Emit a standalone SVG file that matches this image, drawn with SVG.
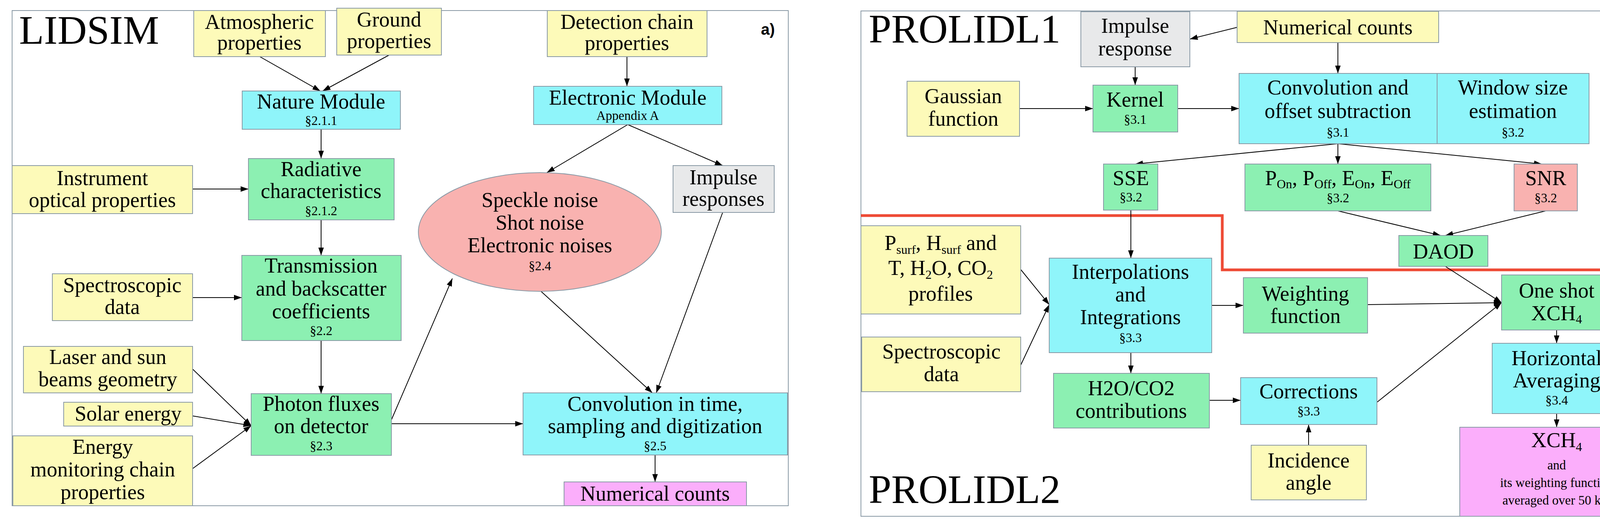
<svg xmlns="http://www.w3.org/2000/svg" width="4253" height="1352" viewBox="0 0 4253 1352">
<defs>
<marker id="ah" viewBox="0 0 20 14" refX="20" refY="7" markerWidth="20" markerHeight="14" markerUnits="userSpaceOnUse" orient="auto"><path d="M0,0 L20,7 L0,14 z" fill="#000"/></marker>
<style>
.n{stroke:#8a9aa6;stroke-width:2}
.y{fill:#fdfab9}.c{fill:#8ff5fa}.g{fill:#8cf0b2}.p{fill:#f9b2b0}.gr{fill:#e8e9ea}.m{fill:#fbaefb}
text{font-family:"Liberation Serif","DejaVu Serif",serif;fill:#000;text-anchor:middle}
.t{font-size:54px}.s{font-size:33px}.big{font-size:104px;text-anchor:start}
.lab{font-family:"Liberation Sans",Arial,sans-serif;font-weight:bold;font-size:40px;text-anchor:start}
.f{fill:none;stroke:#8a9aa6;stroke-width:2}
#conn line{stroke:#000;stroke-width:2;fill:none;marker-end:url(#ah)}
</style>
</defs>
<rect width="4253" height="1352" fill="#fff"/>
<rect class="f" x="31" y="27" width="1987" height="1268"/>
<rect class="f" x="2204" y="28" width="2032" height="1294"/>
<text class="big" x="49" y="112">LIDSIM</text>
<text class="lab" x="1948" y="89">a)</text>
<text class="big" x="2224" y="109">PROLIDL1</text>
<text class="big" x="2224" y="1288">PROLIDL2</text>
<text class="lab" x="4160" y="92">b)</text>
<polyline points="2204,552 3129,552 3129,691 4236,691" fill="none" stroke="#ee4a35" stroke-width="7"/>

<g id="conn">
<line x1="665" y1="145" x2="820" y2="233"/>
<line x1="996" y1="141" x2="826" y2="233"/>
<line x1="1605" y1="145" x2="1605" y2="221"/>
<line x1="822" y1="331" x2="822" y2="406"/>
<line x1="493" y1="484" x2="636" y2="484"/>
<line x1="822" y1="563" x2="822" y2="654"/>
<line x1="493" y1="762" x2="619" y2="762"/>
<line x1="822" y1="872" x2="822" y2="1008"/>
<line x1="493" y1="945" x2="643" y2="1090"/>
<line x1="493" y1="1065" x2="643" y2="1090"/>
<line x1="493" y1="1200" x2="643" y2="1090"/>
<line x1="1002" y1="1085" x2="1339" y2="1085"/>
<line x1="1002" y1="1075" x2="1158" y2="713"/>
<line x1="1607" y1="319" x2="1400" y2="442"/>
<line x1="1607" y1="319" x2="1850" y2="424"/>
<line x1="1385" y1="746" x2="1670" y2="1006"/>
<line x1="1850" y1="544" x2="1680" y2="1006"/>
<line x1="1677" y1="1165" x2="1677" y2="1234"/>

<line x1="3167" y1="70" x2="3046" y2="100"/>
<line x1="3425" y1="109" x2="3425" y2="188"/>
<line x1="2906" y1="171" x2="2906" y2="218"/>
<line x1="2610" y1="278" x2="2798" y2="278"/>
<line x1="3015" y1="278" x2="3172" y2="278"/>
<line x1="3425" y1="368" x2="2906" y2="420"/>
<line x1="3425" y1="368" x2="3425" y2="420"/>
<line x1="3425" y1="368" x2="3947" y2="420"/>
<line x1="3425" y1="540" x2="3688" y2="603"/>
<line x1="3957" y1="540" x2="3700" y2="603"/>
<line x1="2895" y1="538" x2="2895" y2="661"/>
<line x1="2613" y1="690" x2="2686" y2="780"/>
<line x1="2613" y1="935" x2="2686" y2="780"/>
<line x1="3102" y1="782" x2="3183" y2="782"/>
<line x1="3501" y1="780" x2="3844" y2="775"/>
<line x1="3700" y1="682" x2="3844" y2="775"/>
<line x1="3525" y1="1030" x2="3844" y2="775"/>
<line x1="2895" y1="903" x2="2895" y2="956"/>
<line x1="3096" y1="1025" x2="3176" y2="1025"/>
<line x1="3350" y1="1140" x2="3350" y2="1087"/>
<line x1="3985" y1="845" x2="3985" y2="879"/>
<line x1="3985" y1="1059" x2="3985" y2="1094"/>
</g>

<g id="atmos"><rect class="n y" x="496" y="27" width="337" height="118"/><text class="t" x="664" y="74">Atmospheric</text><text class="t" x="664" y="127">properties</text></g>
<g id="ground"><rect class="n y" x="862" y="21" width="268" height="120"/><text class="t" x="996" y="68">Ground</text><text class="t" x="996" y="123">properties</text></g>
<g id="nature"><rect class="n c" x="620" y="233" width="405" height="98"/><text class="t" x="822" y="278">Nature Module</text><text class="s" x="822" y="320">§2.1.1</text></g>
<g id="detection"><rect class="n y" x="1401" y="27" width="409" height="118"/><text class="t" x="1605" y="74">Detection chain</text><text class="t" x="1605" y="128">properties</text></g>
<g id="electronic"><rect class="n c" x="1366" y="221" width="482" height="98"/><text class="t" x="1607" y="268">Electronic Module</text><text class="s" x="1607" y="307">Appendix A</text></g>
<g id="instrument"><rect class="n y" x="31" y="424" width="462" height="123"/><text class="t" x="262" y="474">Instrument</text><text class="t" x="262" y="530">optical properties</text></g>
<g id="radiative"><rect class="n g" x="636" y="406" width="373" height="157"/><text class="t" x="822" y="451">Radiative</text><text class="t" x="822" y="507">characteristics</text><text class="s" x="822" y="551">§2.1.2</text></g>
<g id="impulses"><rect class="n gr" x="1723" y="424" width="259" height="120"/><text class="t" x="1852" y="472">Impulse</text><text class="t" x="1852" y="527">responses</text></g>
<g id="noise"><ellipse class="n p" cx="1382" cy="594" rx="311" ry="152"/><text class="t" x="1382" y="530">Speckle noise</text><text class="t" x="1382" y="588">Shot noise</text><text class="t" x="1382" y="646">Electronic noises</text><text class="s" x="1382" y="692">§2.4</text></g>
<g id="transmission"><rect class="n g" x="619" y="654" width="408" height="218"/><text class="t" x="822" y="698">Transmission</text><text class="t" x="822" y="757">and backscatter</text><text class="t" x="822" y="815">coefficients</text><text class="s" x="822" y="858">§2.2</text></g>
<g id="spectro-a"><rect class="n y" x="134" y="701" width="359" height="120"/><text class="t" x="313" y="748">Spectroscopic</text><text class="t" x="313" y="804">data</text></g>
<g id="laser"><rect class="n y" x="60" y="887" width="433" height="119"/><text class="t" x="276" y="932">Laser and sun</text><text class="t" x="276" y="989">beams geometry</text></g>
<g id="solar"><rect class="n y" x="163" y="1030" width="330" height="61"/><text class="t" x="328" y="1077">Solar energy</text></g>
<g id="energy"><rect class="n y" x="33" y="1116" width="460" height="179"/><text class="t" x="263" y="1162">Energy</text><text class="t" x="263" y="1220">monitoring chain</text><text class="t" x="263" y="1278">properties</text></g>
<g id="photon"><rect class="n g" x="643" y="1008" width="359" height="158"/><text class="t" x="822" y="1052">Photon fluxes</text><text class="t" x="822" y="1109">on detector</text><text class="s" x="822" y="1153">§2.3</text></g>
<g id="convtime"><rect class="n c" x="1339" y="1006" width="677" height="159"/><text class="t" x="1677" y="1052">Convolution in time,</text><text class="t" x="1677" y="1109">sampling and digitization</text><text class="s" x="1677" y="1153">§2.5</text></g>
<g id="numcounts-a"><rect class="n m" x="1444" y="1234" width="467" height="61"/><text class="t" x="1677" y="1282">Numerical counts</text></g>

<g id="impulse-b"><rect class="n gr" x="2767" y="30" width="279" height="141"/><text class="t" x="2906" y="84">Impulse</text><text class="t" x="2906" y="142">response</text></g>
<g id="numcounts-b"><rect class="n y" x="3167" y="29" width="516" height="80"/><text class="t" x="3425" y="88">Numerical counts</text></g>
<g id="gaussian"><rect class="n y" x="2322" y="208" width="288" height="141"/><text class="t" x="2466" y="264">Gaussian</text><text class="t" x="2466" y="322">function</text></g>
<g id="kernel"><rect class="n g" x="2798" y="218" width="217" height="120"/><text class="t" x="2906" y="273">Kernel</text><text class="s" x="2906" y="317">§3.1</text></g>
<g id="convoffset"><rect class="n c" x="3172" y="188" width="507" height="180"/><text class="t" x="3425" y="242">Convolution and</text><text class="t" x="3425" y="302">offset subtraction</text><text class="s" x="3425" y="350">§3.1</text></g>
<g id="window"><rect class="n c" x="3679" y="188" width="389" height="180"/><text class="t" x="3873" y="242">Window size</text><text class="t" x="3873" y="302">estimation</text><text class="s" x="3873" y="350">§3.2</text></g>
<g id="sse"><rect class="n g" x="2825" y="420" width="139" height="118"/><text class="t" x="2895" y="474">SSE</text><text class="s" x="2895" y="516">§3.2</text></g>
<g id="pon"><rect class="n g" x="3187" y="420" width="476" height="120"/><text class="t" x="3425" y="474">P<tspan font-size="32" dy="8">On</tspan><tspan dy="-8">, P</tspan><tspan font-size="32" dy="8">Off</tspan><tspan dy="-8">, E</tspan><tspan font-size="32" dy="8">On</tspan><tspan dy="-8">, E</tspan><tspan font-size="32" dy="8">Off</tspan></text><text class="s" x="3425" y="518">§3.2</text></g>
<g id="snr"><rect class="n p" x="3876" y="420" width="162" height="120"/><text class="t" x="3957" y="474">SNR</text><text class="s" x="3957" y="518">§3.2</text></g>
<g id="daod"><rect class="n g" x="3581" y="603" width="228" height="79"/><text class="t" x="3695" y="662">DAOD</text></g>
<g id="psurf"><rect class="n y" x="2204" y="578" width="409" height="226"/><text class="t" x="2408" y="640">P<tspan font-size="32" dy="10">surf</tspan><tspan dy="-10">, H</tspan><tspan font-size="32" dy="10">surf</tspan><tspan dy="-10"> and</tspan></text><text class="t" x="2408" y="704">T, H<tspan font-size="32" dy="10">2</tspan><tspan dy="-10">O, CO</tspan><tspan font-size="32" dy="10">2</tspan></text><text class="t" x="2408" y="770">profiles</text></g>
<g id="spectro-b"><rect class="n y" x="2206" y="863" width="407" height="140"/><text class="t" x="2410" y="918">Spectroscopic</text><text class="t" x="2410" y="976">data</text></g>
<g id="interp"><rect class="n c" x="2686" y="661" width="416" height="242"/><text class="t" x="2894" y="714">Interpolations</text><text class="t" x="2894" y="772">and</text><text class="t" x="2894" y="830">Integrations</text><text class="s" x="2894" y="876">§3.3</text></g>
<g id="weighting"><rect class="n g" x="3183" y="711" width="318" height="142"/><text class="t" x="3342" y="770">Weighting</text><text class="t" x="3342" y="827">function</text></g>
<g id="oneshot"><rect class="n g" x="3844" y="704" width="282" height="141"/><text class="t" x="3985" y="762">One shot</text><text class="t" x="3985" y="820">XCH<tspan font-size="32" dy="8">4</tspan></text></g>
<g id="h2o"><rect class="n g" x="2697" y="956" width="399" height="140"/><text class="t" x="2896" y="1012">H2O/CO2</text><text class="t" x="2896" y="1070">contributions</text></g>
<g id="corrections"><rect class="n c" x="3176" y="967" width="349" height="120"/><text class="t" x="3350" y="1020">Corrections</text><text class="s" x="3350" y="1064">§3.3</text></g>
<g id="horizontal"><rect class="n c" x="3820" y="879" width="331" height="180"/><text class="t" x="3985" y="935">Horizontal</text><text class="t" x="3985" y="992">Averaging</text><text class="s" x="3985" y="1036">§3.4</text></g>
<g id="incidence"><rect class="n y" x="3203" y="1140" width="295" height="140"/><text class="t" x="3350" y="1197">Incidence</text><text class="t" x="3350" y="1254">angle</text></g>
<g id="xch4"><rect class="n m" x="3737" y="1094" width="499" height="228"/><text class="t" x="3985" y="1145">XCH<tspan font-size="32" dy="10">4</tspan></text><text class="s" x="3985" y="1202">and</text><text class="s" x="3985" y="1247">its weighting function</text><text class="s" x="3985" y="1292">averaged over 50 km</text></g>
</svg>
